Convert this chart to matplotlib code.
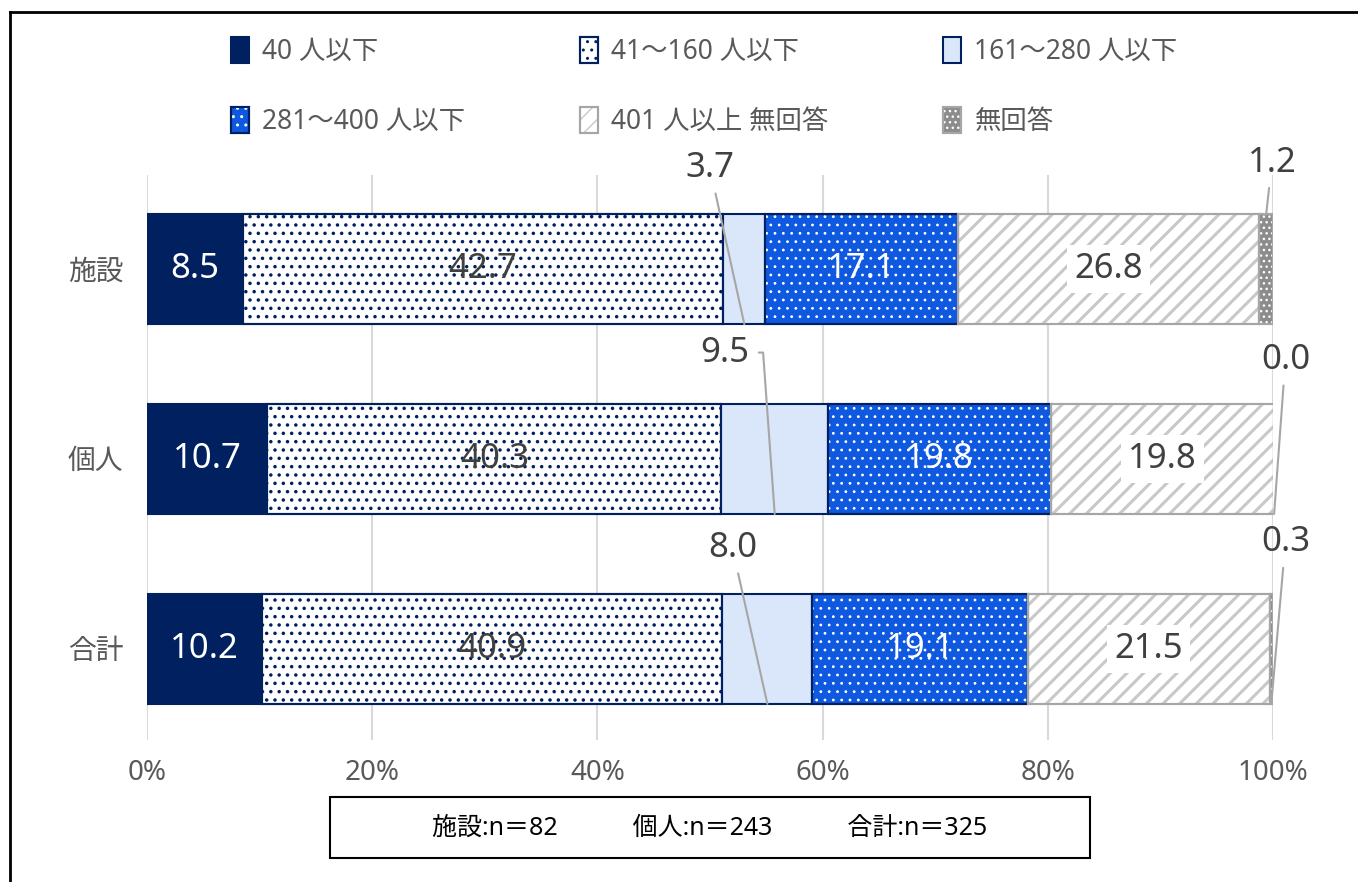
import numpy as np
import matplotlib
matplotlib.use("Agg")
import matplotlib.pyplot as plt
from matplotlib.patches import Rectangle
from matplotlib.lines import Line2D
from matplotlib.legend_handler import HandlerTuple

plt.rcParams['font.family'] = ['Noto Sans', 'Noto Sans CJK JP', 'DejaVu Sans']

# ---------------- data ----------------
categories = ['施設', '個人', '合計']
series_names = ['40 人以下', '41～160 人以下', '161～280 人以下',
                '281～400 人以下', '401 人以上 無回答', '無回答']
v_40 = [8.5, 10.7, 10.2]
v_41_160 = [42.7, 40.3, 40.9]
v_161_280 = [3.7, 9.5, 8.0]
v_281_400 = [17.1, 19.8, 19.1]
v_401 = [26.8, 19.8, 21.5]
v_none = [1.2, 0.0, 0.3]
sample_note = '施設:n＝82　　　個人:n＝243　　　合計:n＝325'
x_ticks = [0, 20, 40, 60, 80, 100]

# ---------------- styles ----------------
navy = '#002060'
gray_edge = '#A6A6A6'
styles = [
    dict(face=navy, edge=navy, hatch=None, hcol=None, hlw=1, txt='white', box=False),
    dict(face='white', edge=navy, hatch='..', hcol=navy, hlw=1.3, txt='#404040', box=False),
    dict(face='#DAE7FB', edge=navy, hatch=None, hcol=None, hlw=1, txt='#404040', box=False),
    dict(face='#0F58E0', edge=navy, hatch='..', hcol='white', hlw=0.8, txt='white', box=False),
    dict(face='white', edge=gray_edge, hatch='//', hcol='#C8C8C8', hlw=2.2, txt='#404040', box=True),
    dict(face='#8C8C8C', edge=gray_edge, hatch='...', hcol='white', hlw=1.0, txt='#404040', box=False),
]
# callout positions (x in %, y in category units) for small segments
callouts = {
    (2, 0): (50.0, -0.53, 'bottom'),
    (2, 1): (51.3, 0.44, 'bottom'),
    (2, 2): (52.0, 1.47, 'bottom'),
    (5, 0): (99.9, -0.56, 'top'),
    (5, 1): (101.1, 0.48, 'bottom'),
    (5, 2): (101.1, 1.44, 'bottom'),
}

fig = plt.figure(figsize=(13.58, 8.82), dpi=100)
ax = fig.add_axes([0.1082, 0.161, 0.8292, 0.6406])

all_vals = [v_40, v_41_160, v_161_280, v_281_400, v_401, v_none]
y = np.arange(len(categories))
h = 0.58
left = np.zeros(len(categories))
handles = []
for i, (vals, st) in enumerate(zip(all_vals, styles)):
    vals = np.array(vals)
    base = ax.barh(y, vals, left=left, height=h, color=st['face'],
                   edgecolor=st['edge'], linewidth=1.5, zorder=2)
    hnd = base.patches[0]
    if st['hatch']:
        with plt.rc_context({'hatch.linewidth': st['hlw']}):
            over = ax.barh(y, vals, left=left, height=h, facecolor='none',
                           edgecolor=st['hcol'], linewidth=0, hatch=st['hatch'], zorder=3)
        edge = ax.barh(y, vals, left=left, height=h, facecolor='none',
                       edgecolor=st['edge'], linewidth=1.5, zorder=4)
        hnd = (base.patches[0], over.patches[0], edge.patches[0])
    handles.append(hnd)
    for j, v in enumerate(vals):
        cx = left[j] + v / 2
        if (i, j) in callouts:
            tx, ty, side = callouts[(i, j)]
            yy = y[j] + h / 2 if side == 'bottom' else y[j] - h / 2
            arrow = dict(arrowstyle='-', color='#A6A6A6', lw=1.5, shrinkA=4, shrinkB=0)
            if (i, j) == (2, 1):
                arrow.update(relpos=(1, 0.5), shrinkA=5,
                             connectionstyle='arc,angleA=0,armA=14,angleB=90,armB=0,rad=0')
            ax.annotate(f'{v:.1f}', xy=(cx, yy), xytext=(tx, ty),
                        ha='center', va='center', fontsize=25, color='#404040',
                        annotation_clip=False, zorder=6, arrowprops=arrow)
        else:
            bbox = dict(boxstyle='square,pad=0.2', fc='white', ec='none') if st['box'] else None
            ax.text(cx, y[j], f'{v:.1f}', ha='center', va='center', fontsize=25,
                    color=st['txt'], bbox=bbox, zorder=6)
    left = left + vals

ax.set_xlim(0, 100)
ax.set_ylim(2.48, -0.495)
ax.set_yticks(y)
ax.set_yticklabels(categories, fontsize=20, color='#595959')
ax.set_xticks(x_ticks)
ax.set_xticklabels([f'{t}%' for t in x_ticks], fontsize=20, color='#595959')
ax.tick_params(length=0, pad=14)
ax.tick_params(axis='y', pad=17)
ax.grid(axis='x', color='#D9D9D9', lw=1.5, zorder=0)
ax.set_axisbelow(True)
for s in ax.spines.values():
    s.set_visible(False)

# legend, row-major order
order = [0, 3, 1, 4, 2, 5]
fig.legend([handles[k] for k in order], [series_names[k] for k in order],
           ncol=3, loc='upper left', bbox_to_anchor=(0.1625, 0.97),
           frameon=False, fontsize=19, labelcolor='#595959',
           handler_map={tuple: HandlerTuple(ndivide=1, pad=0)},
           handlelength=0.68, handleheight=1.14, handletextpad=0.5,
           labelspacing=1.55, columnspacing=4.35, borderaxespad=0)

# sample size box
fig.add_artist(Rectangle((0.243, 0.0272), 0.5597, 0.0692, transform=fig.transFigure,
                         fill=False, ec='black', lw=1.5))
fig.text(0.5228, 0.0612, sample_note, ha='center', va='center', fontsize=18, color='black')

# outer frame (left and top edges)
fig.add_artist(Line2D([0.0074, 0.0074], [0, 0.9864], transform=fig.transFigure,
                      color='black', lw=2))
fig.add_artist(Line2D([0.0074, 1], [0.9864, 0.9864], transform=fig.transFigure,
                      color='black', lw=2))

fig.savefig('out.png', dpi=100)
